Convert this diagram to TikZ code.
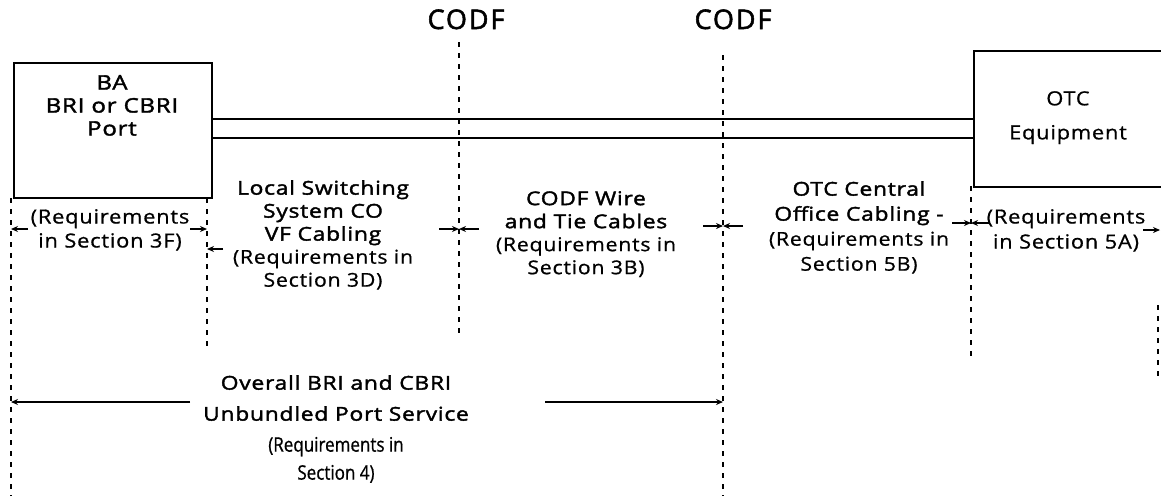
\documentclass[tikz,border=0pt]{standalone}
\usepackage{fontspec}
\setmainfont[FakeStretch=1.12,LetterSpace=4,FakeBold=0.8]{Open Sans}
\newfontfamily\tfont[FakeStretch=1.2,LetterSpace=4,FakeBold=2]{Open Sans}
\newfontfamily\cfont[LetterSpace=7,FakeBold=2]{Open Sans}
\newfontfamily\nfont[FakeStretch=0.85,FakeBold=0.8]{Open Sans}
\usetikzlibrary{arrows.meta}
\begin{document}
\begin{tikzpicture}[x=1pt,y=-1pt,
  box/.style={draw,line width=2.3pt,inner sep=0pt,anchor=north west},
  wire/.style={line width=2.2pt},
  dline/.style={line width=1.7pt,dash pattern=on 5pt off 6pt},
  arr/.style={line width=1.5pt,-{Stealth[length=7pt,width=6pt]}},
  ttl/.style={font=\tfont\fontsize{19}{23}\selectfont,align=center,inner sep=0pt,anchor=north},
  req/.style={font=\fontsize{19.5}{24}\selectfont,align=center,inner sep=0pt,anchor=north},
  top/.style={font=\cfont\fontsize{27}{30}\selectfont,inner sep=0pt,anchor=base}
]
\useasboundingbox (0,0) rectangle (1161,496);
\clip (0,0) rectangle (1161,496);
% boxes
\node[box,minimum width=198pt,minimum height=135pt] (port) at (13,62) {};
\node[box,minimum width=230pt,minimum height=136pt] (otc) at (973,50) {};
\node[ttl,font=\tfont\fontsize{20}{23}\selectfont] (portlbl) at (112,75) {BA\\BRI or CBRI\\Port};
\node[req,font=\fontsize{19.5}{34}\selectfont] (otclbl) at (1068,91) {OTC\\Equipment};
% wires
\coordinate (w1) at (0,119);
\coordinate (w2) at (0,138);
\draw[wire] (port.east |- w1) -- (otc.west |- w1);
\draw[wire] (port.east |- w2) -- (otc.west |- w2);
% CODF labels
\node[top] (codf1) at (466,29) {CODF};
\node[top] (codf2) at (733,29) {CODF};
% dashed lines
\coordinate (d0t) at (11,198);  \coordinate (d0b) at (11,496);
\coordinate (d1t) at (207,198); \coordinate (d1b) at (207,348);
\coordinate (d2t) at (459,42);  \coordinate (d2b) at (459,337);
\coordinate (d3t) at (723,55);  \coordinate (d3b) at (723,496);
\coordinate (d4t) at (971,186); \coordinate (d4b) at (971,360);
\coordinate (d5t) at (1158,305); \coordinate (d5b) at (1158,380);
\draw[dline] (d0t) -- (d0b);
\draw[dline] (d1t) -- (d1b);
\draw[dline] (d2t) -- (d2b);
\draw[dline] (d3t) -- (d3b);
\draw[dline] (d4t) -- (d4b);
\draw[dline] (d5t) -- (d5b);
% text blocks
\node[req] (r3f) at (110,209) {(Requirements\\in Section 3F)};
\node[ttl] (lsw) at (323,180) {Local Switching\\System CO\\VF Cabling\\\rmfamily(Requirements in\\\rmfamily Section 3D)};
\node[ttl] (codfw) at (586,191) {CODF Wire\\and Tie Cables\\\rmfamily(Requirements in\\\rmfamily Section 3B)};
\node[ttl,font=\tfont\fontsize{19}{25}\selectfont] (otcc) at (859,181) {OTC Central\\Office Cabling -\\\rmfamily(Requirements in\\\rmfamily Section 5B)};
\node[req,font=\fontsize{19.5}{25}\selectfont] (r5a) at (1066,209) {(Requirements\\in Section 5A)};
\node[ttl,font=\tfont\fontsize{19}{31}\selectfont] (overall) at (336,375) {Overall BRI and CBRI\\Unbundled Port Service\\\nfont\fontsize{20}{32}\selectfont(Requirements in\\[-3pt]\nfont\fontsize{20}{32}\selectfont Section 4)};
% arrows
\coordinate (a1s) at (28,229);   \coordinate (a1e) at (11,229);
\coordinate (a2s) at (190,229);  \coordinate (a2e) at (207,229);
\coordinate (a3s) at (223,249);  \coordinate (a3e) at (207,249);
\coordinate (a4s) at (439,229);  \coordinate (a4e) at (459,229);
\coordinate (a5s) at (479,229);  \coordinate (a5e) at (459,229);
\coordinate (a6s) at (703,226);  \coordinate (a6e) at (723,226);
\coordinate (a7s) at (743,226);  \coordinate (a7e) at (723,226);
\coordinate (a8s) at (952,223);  \coordinate (a8e) at (971,223);
\coordinate (a9s) at (990,223);  \coordinate (a9e) at (971,223);
\coordinate (a10s) at (1143,230); \coordinate (a10e) at (1160,230);
\coordinate (b1s) at (190,402);  \coordinate (b1e) at (11,402);
\coordinate (b2s) at (545,402);  \coordinate (b2e) at (723,402);
\foreach \s/\e in {a1s/a1e,a2s/a2e,a3s/a3e,a4s/a4e,a5s/a5e,a6s/a6e,a7s/a7e,a8s/a8e,a9s/a9e,a10s/a10e,b1s/b1e,b2s/b2e}
  \draw[arr] (\s) -- (\e);
\end{tikzpicture}
\end{document}
